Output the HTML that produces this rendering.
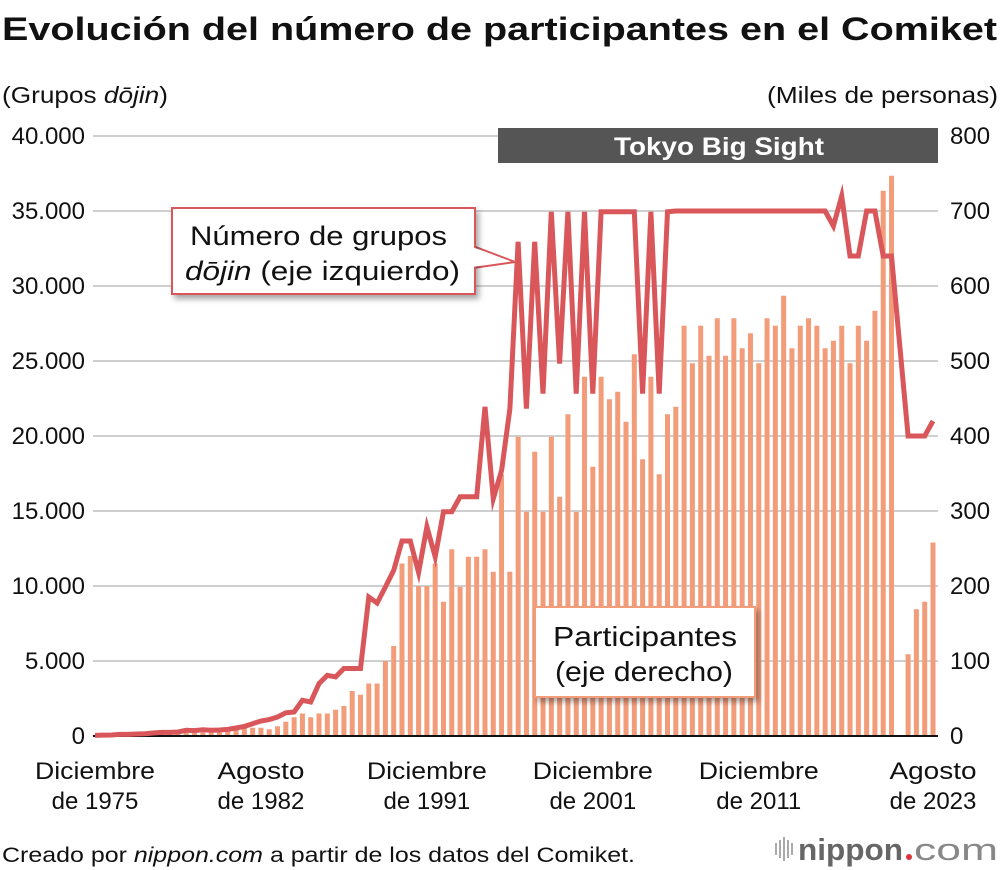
<!DOCTYPE html>
<html><head><meta charset="utf-8"><style>
html,body{margin:0;padding:0;background:#fff;}
svg{display:block;font-family:"Liberation Sans",Arial,sans-serif;}
</style></head><body>
<svg id="chart" width="1000" height="870" viewBox="0 0 1000 870" xmlns="http://www.w3.org/2000/svg">
<defs><filter id="sh" x="-10%" y="-10%" width="130%" height="140%"><feDropShadow dx="3" dy="4" stdDeviation="3" flood-color="#000" flood-opacity="0.35"/></filter></defs>
<text x="2" y="40" font-size="32" font-weight="bold" fill="#111" textLength="995" lengthAdjust="spacingAndGlyphs">Evolución del número de participantes en el Comiket</text>
<text x="2" y="103" font-size="23" fill="#111" textLength="166" lengthAdjust="spacingAndGlyphs">(Grupos <tspan font-style="italic">dōjin</tspan>)</text>
<text x="767" y="103" font-size="23" fill="#111" textLength="231" lengthAdjust="spacingAndGlyphs">(Miles de personas)</text>
<g id="grid"></g>
<g id="bars"></g>
<rect x="498" y="128" width="440" height="35" fill="#555"/>
<text x="614" y="155" font-size="25" font-weight="bold" fill="#fff" textLength="210" lengthAdjust="spacingAndGlyphs">Tokyo Big Sight</text>
<g id="line"></g>
<g id="xlabels"></g>
<g>
<polygon points="473,246 515,262 473,268" fill="#fff" stroke="#d9565a" stroke-width="2"/>
<rect x="172" y="208" width="303" height="86" fill="#fff" stroke="#d9565a" stroke-width="2" filter="url(#sh)"/>
<polygon points="472,247 472,267 510,261" fill="#fff"/>
<text x="190" y="245" font-size="27" fill="#111" textLength="257" lengthAdjust="spacingAndGlyphs">Número de grupos</text>
<text x="185" y="280" font-size="27" fill="#111" textLength="275" lengthAdjust="spacingAndGlyphs"><tspan font-style="italic">dōjin</tspan> (eje izquierdo)</text>
</g>
<g>
<rect x="535" y="607" width="220" height="90" fill="#fff" stroke="#f29c7a" stroke-width="2" filter="url(#sh)"/>
<text x="553" y="646" font-size="28" fill="#111" textLength="184" lengthAdjust="spacingAndGlyphs">Participantes</text>
<text x="555" y="681" font-size="28" fill="#111" textLength="178" lengthAdjust="spacingAndGlyphs">(eje derecho)</text>
</g>
<text x="2" y="862" font-size="21" fill="#111" textLength="633" lengthAdjust="spacingAndGlyphs">Creado por <tspan font-style="italic">nippon.com</tspan> a partir de los datos del Comiket.</text>
<g>
<g fill="#aaa"><rect x="775" y="843" width="2" height="12"/><rect x="779" y="840" width="2" height="18"/><rect x="783" y="837" width="2" height="24"/><rect x="787" y="840" width="2" height="18"/><rect x="791" y="843" width="2" height="12"/></g>
<text x="798" y="860" font-size="31" fill="#666" font-weight="bold" textLength="105" lengthAdjust="spacingAndGlyphs">nippon</text>
<circle cx="909" cy="857" r="3" fill="#e0303a"/>
<text x="914" y="860" font-size="31" fill="#888" textLength="84" lengthAdjust="spacingAndGlyphs">com</text>
</g>
</svg>
<script>
const leftTicks = [0,5000,10000,15000,20000,25000,30000,35000,40000];
const leftTickLabels = ["0","5.000","10.000","15.000","20.000","25.000","30.000","35.000","40.000"];
const rightTicks = [0,100,200,300,400,500,600,700,800];
const xLabelIdx = [0,20,40,60,80,101];
const xLabelTop = ["Diciembre","Agosto","Diciembre","Diciembre","Diciembre","Agosto"];
const xLabelBottom = ["de 1975","de 1982","de 1991","de 2001","de 2011","de 2023"];
const participants = [0.7,0.7,1,1,1.5,2,2,2.5,3,3.5,4,4,4.5,5,5,6,
 6,8,11,11,11,9,13,19,25,30,25,30,30,35,40,60,55,70,70,100,120,230,240,200,
 200,230,179,249,199,239,239,249,219,349,219,399,299,379,299,399,319,429,299,479,
 359,479,449,459,419,509,369,479,349,429,439,
 547,497,547,507,557,507,557,517,537,497,557,547,587,517,547,557,547,517,527,547,497,547,527,567,727,747,
 null,109,169,179,258];
const groups = [40,60,70,110,110,130,150,200,240,240,270,380,360,420,380,400,440,530,640,820,
 1000,1090,1270,1550,1600,2380,2270,3490,4050,3940,4500,4500,4500,9270,8870,9930,11040,13000,13000,10900,
 13950,11950,14950,14950,15950,15950,15950,21950,15825,17700,21825,32950,21825,32950,22825,34950,24825,34950,22825,34950,
 22825,34950,34950,34950,34950,34950,22825,34950,22825,34950,
 35000,35000,35000,35000,35000,35000,35000,35000,35000,35000,35000,35000,35000,35000,35000,35000,35000,35000,35000,
 34000,36000,32000,32000,35000,35000,32000,32000,null,20000,20000,20000,21000];

const NS="http://www.w3.org/2000/svg";
const X0=93,X1=938,Y0=736,Y1=136;
function xs(i){return 95+i*838/101;}
function yl(v){return Y0-(v/40000)*(Y0-Y1);}
function yr(v){return Y0-(v/800)*(Y0-Y1);}
function mk(tag,attrs,parent){const e=document.createElementNS(NS,tag);for(const k in attrs)e.setAttribute(k,attrs[k]);parent.appendChild(e);return e;}

const grid=document.getElementById('grid');
leftTicks.forEach((t,i)=>{
  const y=yl(t);
  if(i>0){const g=mk('line',{x1:X0,x2:X1,y1:y,y2:y,stroke:'#cfcfcf','stroke-width':2},grid);
  
  }
  const tl=mk('text',{x:85,y:y+8,'font-size':24,'text-anchor':'end',fill:'#111'},grid);
  tl.textContent=leftTickLabels[i];
  
  
});
rightTicks.forEach(t=>{
  const y=yr(t);
  const tr=mk('text',{x:950,y:y+8,'font-size':24,fill:'#111'},grid);
  tr.textContent=String(t);
  
  
});

const bars=document.getElementById('bars');
participants.forEach((v,i)=>{
  if(v===null)return;
  const y=yr(v);
  const b=mk('rect',{x:xs(i)-2.5,y:y,width:5,height:Y0-y,fill:'#f29c7a'},bars);
  
  
});
const ax=mk('line',{x1:X0,x2:X1,y1:Y0,y2:Y0,stroke:'#111','stroke-width':2},bars);



let pts=[];
groups.forEach((v,i)=>{if(v!==null)pts.push(xs(i).toFixed(1)+','+yl(v).toFixed(1));});
const pl=mk('polyline',{points:pts.join(' '),fill:'none',stroke:'#d9565a','stroke-width':5,'stroke-linejoin':'miter','stroke-miterlimit':10},document.getElementById('line'));



const xl=document.getElementById('xlabels');
xLabelIdx.forEach((idx,i)=>{
  const x=xs(idx);
  const w1=xLabelTop[i]==="Agosto"?87:120;
  const t=mk('text',{x:x-w1/2,y:779,'font-size':24,fill:'#111',textLength:w1,lengthAdjust:'spacingAndGlyphs'},xl);
  t.textContent=xLabelTop[i];
  
  
  const w2=xLabelBottom[i]==="de 1975"?108:92;
  const t2=mk('text',{x:x,y:809,'font-size':24,'text-anchor':'middle',fill:'#111'},xl);
  t2.textContent=xLabelBottom[i];
  
  
});
</script>
</body></html>
